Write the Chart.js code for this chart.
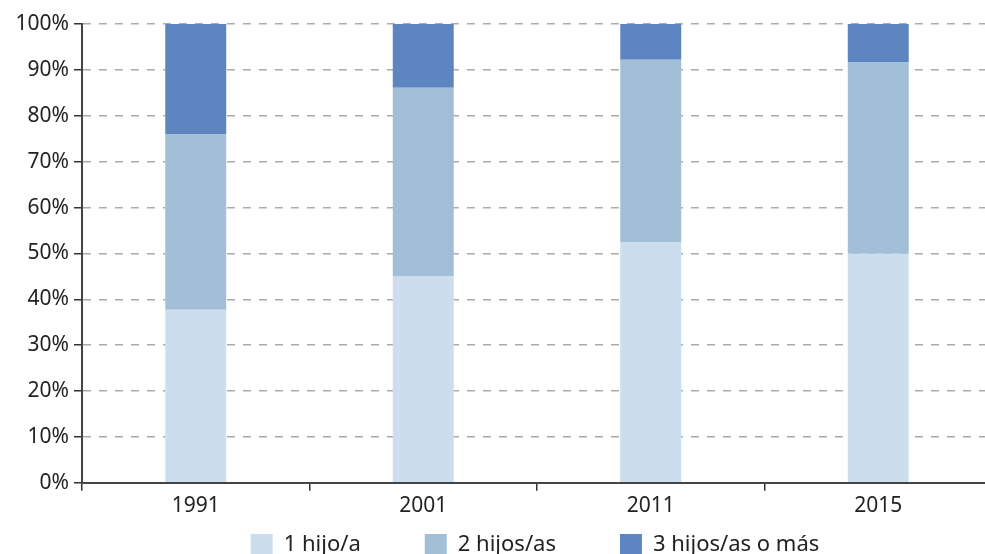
<!DOCTYPE html>
<html>
<head>
<meta charset="utf-8">
<script src="https://cdn.jsdelivr.net/npm/chart.js@4/dist/chart.umd.min.js"></script>
<style>
  html, body { margin: 0; padding: 0; background: #fff; overflow: hidden; }
  #wrap { position: absolute; left: 0; top: 0; width: 1000px; height: 618px; }
</style>
</head>
<body>
<div id="wrap"><canvas id="c" width="1000" height="618"></canvas></div>
<script>
const years = ['1991', '2001', '2011', '2015'];
const seriesNames = ['1 hijo/a', '2 hijos/as', '3 hijos/as o más'];
const oneChild = [37.7, 45.1, 52.5, 49.9];
const twoChildren = [38.3, 41.0, 39.7, 41.8];
const threePlus = [24.0, 13.9, 7.8, 8.3];
const colors = ['#CCDEED', '#A2BFD7', '#5D86C0'];

const FONT = '"Noto Sans", sans-serif';
const LEGEND_LIFT = 52;
const LEGEND_SHIFT = 39;

const moveLegend = {
  id: 'moveLegend',
  afterLayout(chart) {
    const L = chart.legend;
    if (L) {
      L.top -= LEGEND_LIFT; L.bottom -= LEGEND_LIFT;
      L.left += LEGEND_SHIFT; L.right += LEGEND_SHIFT;
    }
  }
};

new Chart(document.getElementById('c'), {
  type: 'bar',
  data: {
    labels: years,
    datasets: [
      { label: seriesNames[0], data: oneChild, backgroundColor: colors[0] },
      { label: seriesNames[1], data: twoChildren, backgroundColor: colors[1] },
      { label: seriesNames[2], data: threePlus, backgroundColor: colors[2] }
    ]
  },
  plugins: [moveLegend],
  options: {
    responsive: false,
    animation: false,
    layout: { padding: { top: 24, right: 8, left: 0, bottom: 0 } },
    datasets: { bar: { categoryPercentage: 1.0, barPercentage: 0.268, borderWidth: 0 } },
    scales: {
      x: {
        stacked: true,
        offset: true,
        grid: { display: true, drawOnChartArea: false, drawTicks: true, tickLength: 8, offset: true, color: '#333', lineWidth: 1.5 },
        border: { display: true, color: '#444', width: 2 },
        ticks: { color: '#222', font: { family: FONT, size: 21 }, padding: 3 }
      },
      y: {
        stacked: true,
        min: 0, max: 100,
        grid: { color: '#ababab', lineWidth: 1.5, tickColor: '#333', tickLength: 8, drawTicks: true },
        border: { display: true, color: '#444', width: 2, dash: [8, 8] },
        ticks: { stepSize: 10, color: '#222', font: { family: FONT, size: 21 }, padding: 5,
                 callback: (v) => v + '%' },
        afterFit: (s) => { s.width = 82; }
      }
    },
    plugins: {
      legend: {
        position: 'bottom',
        labels: { boxWidth: 22, boxHeight: 22, padding: 64, color: '#222', font: { family: FONT, size: 22 } }
      },
      tooltip: { enabled: false }
    }
  }
});
</script>
</body>
</html>
